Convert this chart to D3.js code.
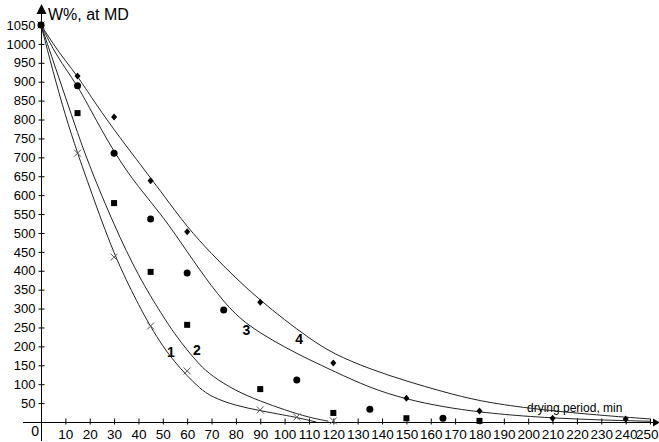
<!DOCTYPE html>
<html>
<head>
<meta charset="utf-8">
<script src="https://cdn.jsdelivr.net/npm/d3@7"></script>
<style>
  body { margin: 0; background: #fff; }
  svg { display: block; font-family: "Liberation Sans", Arial, sans-serif; }
</style>
</head>
<body>
<div id="chart"></div>
<script>
// measured points (drying period, min -> W%)
const times1 = [0, 15, 30, 45, 60, 90, 105, 120];
const vals1 = [1050, 711, 436, 254, 135, 32, 13, 3];
const times2 = [0, 15, 30, 45, 60, 90, 120, 150, 180];
const vals2 = [1050, 817, 579, 397, 257, 87, 24, 10, 3];
const times3 = [0, 15, 30, 45, 60, 75, 105, 135, 165];
const vals3 = [1050, 889, 711, 537, 394, 296, 111, 34, 10];
const times4 = [0, 15, 30, 45, 60, 90, 120, 150, 180, 210, 240];
const vals4 = [1050, 915, 807, 638, 503, 317, 156, 63, 29, 10, 8];

// fitted curves
const curveT1 = [0, 5, 10, 15, 20, 30, 40, 45, 50, 55, 60, 65, 70, 80, 90, 100, 105, 113];
const curveV1 = [1050, 925, 810, 711, 620, 440, 310, 252, 200, 158, 122, 90, 66, 43, 30, 18, 12, 0];
const curveT2 = [0, 5, 10, 15, 20, 30, 40, 50, 55, 60, 65, 70, 80, 90, 100, 110, 118];
const curveV2 = [1050, 955, 860, 765, 675, 520, 385, 280, 232, 190, 152, 122, 82, 55, 32, 12, 2];
const curveT3 = [0, 5, 10, 15, 20, 30, 40, 50, 60, 70, 80, 90, 100, 110, 120, 135, 150, 165, 180, 200, 225, 250];
const curveV3 = [1050, 985, 935, 889, 830, 712, 620, 545, 450, 358, 280, 235, 198, 165, 135, 90, 60, 40, 26, 14, 6, 2];
const curveT4 = [0, 5, 10, 15, 20, 30, 40, 45, 50, 60, 70, 80, 90, 100, 110, 120, 135, 150, 165, 180, 200, 225, 250];
const curveV4 = [1050, 1000, 955, 915, 865, 772, 688, 645, 603, 515, 445, 380, 322, 270, 222, 180, 140, 108, 80, 55, 36, 20, 8];

const curveNames = ['1', '2', '3', '4'];
const nameT = [53.3, 64, 84.3, 106];
const nameV = [185, 190, 243, 220];

const yTicks = d3.range(50, 1051, 50);
const xTicks = d3.range(10, 251, 10);

const width = 659;
const height = 442;

const svg = d3.select('#chart')
  .append('svg')
  .attr('width', width)
  .attr('height', height);

const x = d3.scaleLinear().domain([0, 250]).range([41, 650]);
const y = d3.scaleLinear().domain([0, 1050]).range([422, 25]);

// axes
svg.append('line')
  .attr('x1', 23).attr('x2', 655)
  .attr('y1', y(0) + 0.5).attr('y2', y(0) + 0.5)
  .attr('stroke', '#000');
svg.append('path')
  .attr('d', `M${x(250) + 3},${y(0) - 3.5}L${x(250) + 10},${y(0) + 0.5}L${x(250) + 3},${y(0) + 4.5}Z`)
  .attr('fill', '#000');
svg.append('line')
  .attr('x1', x(0) + 0.5).attr('x2', x(0) + 0.5)
  .attr('y1', 12).attr('y2', 441)
  .attr('stroke', '#000');
svg.append('path')
  .attr('d', `M${x(0) + 0.5},4L${x(0) + 5.5},14L${x(0) - 4.5},14Z`)
  .attr('fill', '#000');

const yAxis = svg.append('g')
  .attr('transform', `translate(${x(0) + 0.5},0)`)
  .call(d3.axisLeft(y).tickValues(yTicks).tickFormat(d3.format('d')).tickSize(3));
yAxis.select('.domain').remove();
yAxis.selectAll('.tick line').attr('x2', 3).attr('x1', -3);
yAxis.selectAll('.tick text')
  .attr('x', -6)
  .style('font-size', '13px')
  .style('font-family', '"Liberation Sans", Arial, sans-serif')
  .attr('fill', '#000');

const xAxis = svg.append('g')
  .attr('transform', `translate(0,${y(0) + 0.5})`)
  .call(d3.axisBottom(x).tickValues(xTicks).tickFormat(d3.format('d')).tickSize(2).tickPadding(5));
xAxis.select('.domain').remove();
xAxis.selectAll('.tick line').attr('y1', -4).attr('y2', 2);
xAxis.selectAll('.tick text')
  .style('font-size', '13.5px')
  .style('font-family', '"Liberation Sans", Arial, sans-serif')
  .attr('fill', '#000')
  .filter((d) => d === 250)
  .attr('text-anchor', 'end')
  .attr('x', 658 - x(250));

svg.append('text')
  .attr('x', x(0) - 2).attr('y', y(0) + 14)
  .attr('text-anchor', 'end')
  .style('font-size', '14px')
  .text('0');

svg.append('text')
  .attr('x', 48).attr('y', 20)
  .style('font-size', '16px')
  .text('W%, at MD');

svg.append('text')
  .attr('x', 527).attr('y', 412)
  .style('font-size', '12px')
  .text('drying period, min');

// fitted curves
const line = d3.line()
  .x((d) => x(d[0]))
  .y((d) => y(d[1]))
  .curve(d3.curveBasis);

const curves = [
  [curveT1, curveV1],
  [curveT2, curveV2],
  [curveT3, curveV3],
  [curveT4, curveV4],
];

svg.append('g')
  .selectAll('path')
  .data(curves)
  .join('path')
  .attr('d', ([ts, vs]) => line(ts.map((t, i) => [t, vs[i]])))
  .attr('fill', 'none')
  .attr('stroke', '#222')
  .attr('stroke-width', 1);

// markers
const pts = (ts, vs) => ts.map((t, i) => ({ t, v: vs[i] }));

svg.append('g')
  .selectAll('path')
  .data(pts(times1, vals1))
  .join('path')
  .attr('transform', (d) => `translate(${x(d.t)},${y(d.v)})`)
  .attr('d', 'M-3.5,-3.5L3.5,3.5M-3.5,3.5L3.5,-3.5')
  .attr('stroke', '#555')
  .attr('fill', 'none');

svg.append('g')
  .selectAll('rect')
  .data(pts(times2, vals2))
  .join('rect')
  .attr('x', (d) => x(d.t) - 3)
  .attr('y', (d) => y(d.v) - 3)
  .attr('width', 6)
  .attr('height', 6)
  .attr('fill', '#000');

svg.append('g')
  .selectAll('circle')
  .data(pts(times3, vals3))
  .join('circle')
  .attr('cx', (d) => x(d.t))
  .attr('cy', (d) => y(d.v))
  .attr('r', 3.5)
  .attr('fill', '#000');

svg.append('g')
  .selectAll('path')
  .data(pts(times4, vals4))
  .join('path')
  .attr('transform', (d) => `translate(${x(d.t)},${y(d.v)})`)
  .attr('d', 'M0,-3.5L3,0L0,3.5L-3,0Z')
  .attr('fill', '#000');

// curve numbers
svg.append('g')
  .selectAll('text')
  .data(curveNames)
  .join('text')
  .attr('x', (d, i) => x(nameT[i]))
  .attr('y', (d, i) => y(nameV[i]))
  .attr('text-anchor', 'middle')
  .attr('dy', '0.35em')
  .style('font-size', '14px')
  .style('font-weight', 'bold')
  .text((d) => d);
</script>
</body>
</html>
